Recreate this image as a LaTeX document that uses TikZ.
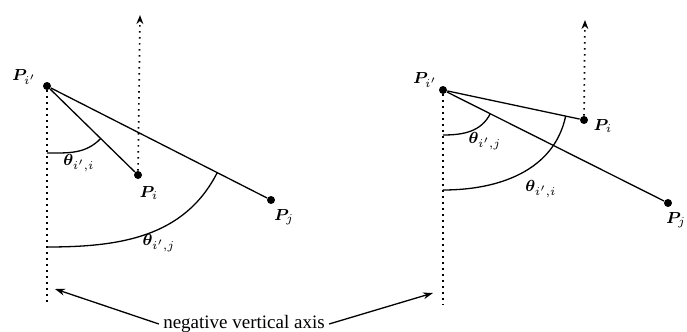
\documentclass[tikz,border=0pt]{standalone}
\usepackage{amsmath}
\usepackage{bm}
\usepackage{fontspec}
\setmainfont{Liberation Serif}
\usetikzlibrary{arrows.meta, calc}

\begin{document}
\begin{tikzpicture}[
    x=0.5pt, y=-0.5pt,
    font=\fontsize{8}{9}\selectfont,
    pt/.style   ={circle, fill=black, inner sep=0pt, minimum size=4pt},
    lbl/.style  ={inner sep=1pt},
    line/.style ={line width=0.65pt},
    vaxis/.style={line width=0.85pt, dash pattern=on 0.7pt off 2.3pt},
    up/.style   ={vaxis, -{Stealth[length=4.5pt, width=3.4pt]}},
    arr/.style  ={line width=0.65pt, -{Stealth[length=5pt, width=3.4pt]}}
]
\useasboundingbox (0,0) rectangle (687,332);

% Left figure
\node[pt] (pa) at (47,86)   {};
\node[pt] (pi) at (138,175) {};
\node[pt] (pj) at (271,200) {};
\node[lbl] (lpa) at (24,77)   {$\bm{P}_{i'}$};
\node[lbl] (lpi) at (149,193) {$\bm{P}_i$};
\node[lbl] (lpj) at (284,217) {$\bm{P}_j$};
\coordinate (ltop) at (140,15);
\coordinate (lbot) at (47,303);

\draw[line] (pa) -- (pi);
\draw[line] (pa) -- (pj);
\draw[vaxis] (pa) -- (lbot);
\draw[up] (pi) -- (ltop);
% angles
\draw[line] ($(pa)+(0,67)$) to[out=0, in=-134] ($(pa)!0.59!(pi)$);
\draw[line] ($(pa)+(0,161)$) to[out=0, in=-117] ($(pa)!0.76!(pj)$);
\node[lbl] (tai) at (79,163)  {$\bm{\theta}_{i',i}$};
\node[lbl] (taj) at (159,243) {$\bm{\theta}_{i',j}$};

% Right figure
\node[pt] (qa) at (443,90)  {};
\node[pt] (qi) at (584,120) {};
\node[pt] (qj) at (668,203) {};
\node[lbl] (lqa) at (425,80)  {$\bm{P}_{i'}$};
\node[lbl] (lqi) at (603,126) {$\bm{P}_i$};
\node[lbl] (lqj) at (676,220) {$\bm{P}_j$};
\coordinate (rtop) at (585,20);
\coordinate (rbot) at (443,305);

\draw[line] (qa) -- (qi);
\draw[line] (qa) -- (qj);
\draw[vaxis] (qa) -- (rbot);
\draw[up] (qi) -- (rtop);
% angles
\draw[line] ($(qa)+(0,45)$) to[out=0, in=-117] ($(qa)!0.21!(qj)$);
\draw[line] ($(qa)+(0,100)$) to[out=0, in=-102] ($(qa)!0.87!(qi)$);
\node[lbl] (tbj) at (485,141) {$\bm{\theta}_{i',j}$};
\node[lbl] (tbi) at (541,189) {$\bm{\theta}_{i',i}$};

% Caption arrows
\node[inner sep=2pt, font=\fontsize{9.5}{11}\selectfont] (neg) at (244,324) {negative vertical axis};
\coordinate (la) at (55,289);
\coordinate (ra) at (433,293);
\draw[arr] (neg.west) -- (la);
\draw[arr] (neg.east) -- (ra);
\end{tikzpicture}
\end{document}
